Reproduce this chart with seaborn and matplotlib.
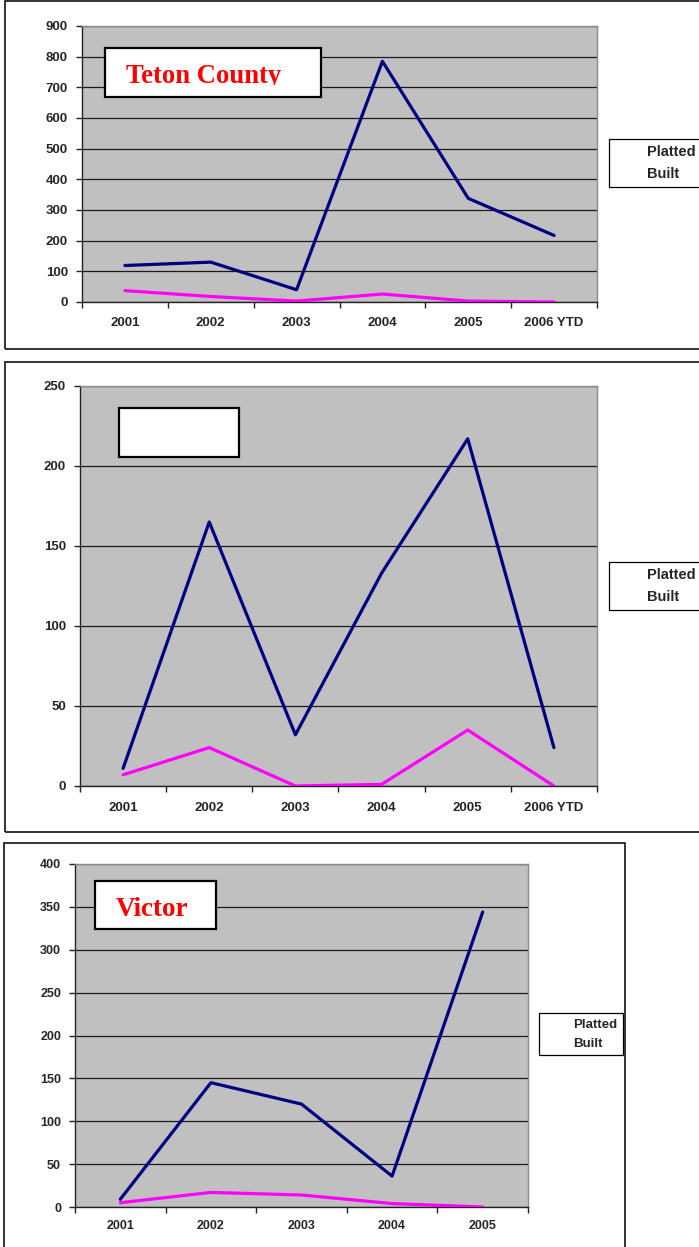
import numpy as np
import pandas as pd
import matplotlib
matplotlib.use("Agg")
import matplotlib.pyplot as plt
import seaborn as sns
from matplotlib.patches import Rectangle
from matplotlib.transforms import Bbox, TransformedBbox

# --- data ---
years_6 = ['2001', '2002', '2003', '2004', '2005', '2006 YTD']
years_5 = ['2001', '2002', '2003', '2004', '2005']

teton_platted = [119, 130, 40, 785, 338, 217]
teton_built = [37, 18, 3, 26, 3, 0]

middle_platted = [11, 165, 32, 133, 217, 24]
middle_built = [7, 24, 0, 1, 35, 0]

victor_platted = [9, 145, 120, 36, 344]
victor_built = [5, 17, 14, 4, 0]

series_names = ['Platted', 'Built']
colors = {'Platted': '#000080', 'Built': '#FF00FF'}

W, H = 699, 1247

sns.set_theme(style='white')
plt.rcParams['font.family'] = ['Liberation Sans', 'DejaVu Sans']

fig = plt.figure(figsize=(W / 100, H / 100), dpi=100)


def fig_rect(x0, y0, x1, y1):
    # pixel box (top-left origin) -> figure fraction [l, b, w, h]
    return [x0 / W, 1 - y1 / H, (x1 - x0) / W, (y1 - y0) / H]


def make_panel(box, cats, platted, built, ymax, ystep, legend_xy, label_pad,
               fsize=9.5, leg_size=10.5):
    ax = fig.add_axes(fig_rect(*box))
    df = pd.DataFrame({
        'year': cats * 2,
        'value': platted + built,
        'series': ['Platted'] * len(cats) + ['Built'] * len(cats),
    })
    sns.lineplot(data=df, x='year', y='value', hue='series', hue_order=series_names,
                 palette=colors, linewidth=2.3, ax=ax, sort=False, zorder=3)
    n = len(cats)
    ax.set_facecolor('#C0C0C0')
    ax.set_xlim(-0.5, n - 0.5)
    ax.set_ylim(0, ymax)
    ax.set_yticks(np.arange(0, ymax + 1, ystep))
    ax.set_yticklabels([str(v) for v in np.arange(0, ymax + 1, ystep)],
                       fontweight='bold', fontsize=fsize)
    # Excel-style category axis: ticks between categories, labels centred
    ax.set_xticks(np.arange(n + 1) - 0.5)
    ax.set_xticklabels([''] * (n + 1))
    ax.set_xticks(np.arange(n), minor=True)
    ax.set_xticklabels(cats, minor=True, fontweight='bold', fontsize=fsize)
    ax.tick_params(axis='x', which='major', direction='out', length=4, width=1,
                   color='#222222', bottom=True)
    ax.tick_params(axis='x', which='minor', length=0, pad=label_pad, bottom=True)
    ax.tick_params(axis='y', direction='out', length=4, width=1, color='#222222',
                   left=True, pad=6)
    ax.set_xlabel('')
    ax.set_ylabel('')
    ax.yaxis.grid(True, color='#1a1a1a', linewidth=0.9)
    ax.xaxis.grid(False)
    ax.set_axisbelow(True)
    for side in ['left', 'bottom']:
        ax.spines[side].set_color('#222222')
        ax.spines[side].set_linewidth(1)
    for side in ['top', 'right']:
        ax.spines[side].set_color('#8a8a8a')
        ax.spines[side].set_linewidth(1)

    leg = ax.legend(loc='upper left', bbox_to_anchor=(legend_xy[0] / W, 1 - legend_xy[1] / H),
                    bbox_transform=fig.transFigure, borderaxespad=0, frameon=True,
                    fancybox=False, framealpha=1, edgecolor='black',
                    prop={'weight': 'bold', 'size': leg_size}, handlelength=1.6,
                    handletextpad=0.6, labelspacing=0.55, borderpad=0.4)
    leg.get_frame().set_linewidth(0.9)
    for h in leg.legend_handles:
        h.set_visible(False)
    return ax


make_panel((82, 26, 597, 302), years_6, teton_platted, teton_built, 900, 100,
           (609, 139), 10.5)
make_panel((80, 386, 597, 786), years_6, middle_platted, middle_built, 250, 50,
           (609, 562), 11.5)
make_panel((75, 864, 528, 1207), years_5, victor_platted, victor_built, 400, 50,
           (539, 1013), 9.5, fsize=9, leg_size=9.5)

# outer chart frames
for (x0, y0, x1, y1) in [(5, 1, 720, 349), (5, 362, 720, 832), (4, 843, 625, 1270)]:
    fig.patches.append(Rectangle((x0 / W, 1 - y1 / H), (x1 - x0) / W, (y1 - y0) / H,
                                 transform=fig.transFigure, fill=False,
                                 edgecolor='#111111', linewidth=1.2, zorder=0.5))

# title boxes
title_boxes = [((105, 48, 321, 97), 'Teton County'),
               ((119, 408, 239, 457), ''),
               ((95, 881, 216, 929), 'Victor')]
for (x0, y0, x1, y1), name in title_boxes:
    fig.patches.append(Rectangle((x0 / W, 1 - y1 / H), (x1 - x0) / W, (y1 - y0) / H,
                                 transform=fig.transFigure, facecolor='white',
                                 edgecolor='black', linewidth=1.6, zorder=5))

t1 = fig.text(126 / W, 1 - 83 / H, 'Teton County', color='#FF0000', fontsize=19.2,
              fontweight='bold', family=['Liberation Serif', 'DejaVu Serif'],
              ha='left', va='baseline', zorder=6)
t1.set_clip_box(TransformedBbox(Bbox([[105 / W, 1 - 85 / H], [321 / W, 1 - 48 / H]]),
                                fig.transFigure))
t1.set_clip_on(True)

fig.text(116 / W, 1 - 916 / H, 'Victor', color='#FF0000', fontsize=19.5,
         fontweight='bold', family=['Liberation Serif', 'DejaVu Serif'],
         ha='left', va='baseline', zorder=6)

fig.savefig('out.png', dpi=100, facecolor='white')
